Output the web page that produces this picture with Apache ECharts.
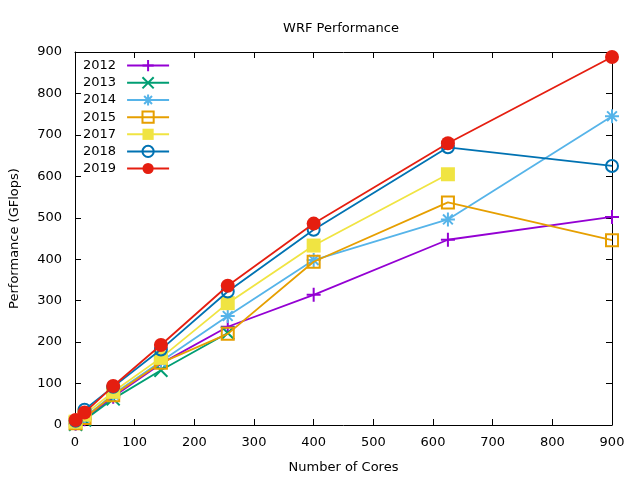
<!DOCTYPE html>
<html><head><meta charset="utf-8">
<script src="https://cdn.jsdelivr.net/npm/echarts@6/dist/echarts.min.js"></script>
<style>html,body{margin:0;padding:0;background:#fff}#c{width:640px;height:480px}</style>
</head><body><div id="c"></div>
<script>
const cores = [1, 16, 64, 144, 256, 400, 625, 900];
const years = ['2012', '2013', '2014', '2015', '2017', '2018', '2019'];
const perf2012 = [3, 14, 68, 148, 237, 314, 447, 502];
const perf2013 = [2, 12, 63, 132, 222];
const perf2014 = [4, 18, 74, 153, 263, 398, 496, 745];
const perf2015 = [4, 17, 72, 150, 220, 394, 537, 446];
const perf2017 = [8, 25, 80, 162, 294, 433, 605];
const perf2018 = [10, 37, 92, 182, 322, 471, 670, 625];
const perf2019 = [12, 30, 94, 193, 336, 486, 680, 888];
const xTicks = [0, 100, 200, 300, 400, 500, 600, 700, 800, 900];
const yTicks = [0, 100, 200, 300, 400, 500, 600, 700, 800, 900];

const allPerf = [perf2012, perf2013, perf2014, perf2015, perf2017, perf2018, perf2019];
const colors = ['#9400D3', '#009E73', '#56B4E9', '#E69F00', '#F0E442', '#0072B2', '#E51E10'];
const PLUS = 'path://M0,5L10,5M5,0L5,10';
const CROSS = 'path://M0,0L10,10M0,10L10,0';
const STAR = 'path://M0,5L10,5M5,0L5,10M1.5,1.5L8.5,8.5M1.5,8.5L8.5,1.5';
const markers = [
  {symbol: PLUS, size: 14, fill: false, stroke: true},
  {symbol: CROSS, size: 13, fill: false, stroke: true},
  {symbol: STAR, size: 14, fill: false, stroke: true},
  {symbol: 'rect', size: 12, fill: false, stroke: true},
  {symbol: 'rect', size: 14, fill: true, stroke: false},
  {symbol: 'circle', size: 12, fill: false, stroke: true},
  {symbol: 'circle', size: 14, fill: true, stroke: false}
];

const series = years.map((y, i) => {
  const m = markers[i];
  const c = colors[i];
  return {
    name: y,
    type: 'line',
    data: allPerf[i].map((v, k) => [cores[k], v]),
    symbol: m.symbol,
    symbolSize: m.size,
    showAllSymbol: true,
    lineStyle: {color: c, width: 1.8},
    itemStyle: {
      color: m.fill ? c : 'rgba(0,0,0,0)',
      borderColor: c,
      borderWidth: m.stroke ? 2 : 0
    },
    emphasis: {disabled: true},
    animation: false,
    z: 2 + i
  };
});

const font = 'DejaVu Sans';
const FS = 13;
const axisCommon = {
  type: 'value', min: 0, max: 900, interval: 100,
  axisLine: {show: true, onZero: false, lineStyle: {color: '#000', width: 1}},
  axisTick: {show: true, inside: true, length: 6, lineStyle: {color: '#000'}},
  splitLine: {show: false}
};

const chart = echarts.init(document.getElementById('c'), null, {renderer: 'canvas'});
chart.setOption({
  animation: false,
  backgroundColor: '#fff',
  color: colors,
  textStyle: {fontFamily: font},
  title: {
    text: 'WRF Performance', left: 336, top: 17, textAlign: 'center',
    textStyle: {fontFamily: font, fontSize: FS, fontWeight: 'normal', color: '#000'}
  },
  legend: {
    orient: 'vertical', left: 78, top: 54, align: 'right',
    itemWidth: 42, itemHeight: 14, itemGap: 4,
    textStyle: {fontFamily: font, fontSize: FS, color: '#000', padding: [0, 6, 0, 0]},
    data: years
  },
  grid: {left: 75, right: 28, top: 52, bottom: 55, containLabel: false, outerBoundsMode: 'none'},
  xAxis: [
    Object.assign({}, axisCommon, {
      position: 'bottom',
      name: 'Number of Cores', nameLocation: 'middle', nameGap: 36,
      nameTextStyle: {fontFamily: font, fontSize: FS, color: '#000'},
      axisLabel: {color: '#000', fontFamily: font, fontSize: FS, margin: 11,
        formatter: v => xTicks.includes(v) ? String(v) : ''}
    }),
    Object.assign({}, axisCommon, {position: 'top', axisLabel: {show: false}})
  ],
  yAxis: [
    Object.assign({}, axisCommon, {
      position: 'left',
      name: 'Performance (GFlops)', nameLocation: 'middle', nameGap: 54, nameRotate: 90,
      nameTextStyle: {fontFamily: font, fontSize: FS, color: '#000'},
      axisLabel: {color: '#000', fontFamily: font, fontSize: FS, margin: 13,
        formatter: v => yTicks.includes(v) ? String(v) : ''}
    }),
    Object.assign({}, axisCommon, {position: 'right', axisLabel: {show: false}})
  ],
  series: series
});
</script></body></html>
